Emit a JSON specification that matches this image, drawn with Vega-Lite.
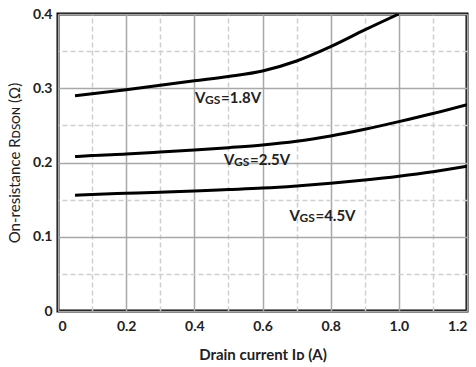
{
  "$schema": "https://vega.github.io/schema/vega-lite/v6.json",
  "width": 409,
  "height": 297,
  "autosize": {"type": "none"},
  "padding": {"left": 58, "top": 14, "right": 9, "bottom": 56},
  "background": "white",
  "config": {
    "view": {"stroke": "black", "strokeWidth": 3},
    "font": "Lato"
  },
  "datasets": {
    "curves": [
      {"id": 0.05, "r": 0.290, "vgs": "1.8V"},
      {"id": 0.1, "r": 0.2925, "vgs": "1.8V"},
      {"id": 0.2, "r": 0.298, "vgs": "1.8V"},
      {"id": 0.3, "r": 0.304, "vgs": "1.8V"},
      {"id": 0.4, "r": 0.310, "vgs": "1.8V"},
      {"id": 0.5, "r": 0.3158, "vgs": "1.8V"},
      {"id": 0.6, "r": 0.3232, "vgs": "1.8V"},
      {"id": 0.7, "r": 0.3367, "vgs": "1.8V"},
      {"id": 0.8, "r": 0.356, "vgs": "1.8V"},
      {"id": 0.9, "r": 0.3785, "vgs": "1.8V"},
      {"id": 1.0, "r": 0.4, "vgs": "1.8V"},
      {"id": 0.05, "r": 0.208, "vgs": "2.5V"},
      {"id": 0.1, "r": 0.2095, "vgs": "2.5V"},
      {"id": 0.2, "r": 0.2114, "vgs": "2.5V"},
      {"id": 0.3, "r": 0.214, "vgs": "2.5V"},
      {"id": 0.4, "r": 0.2168, "vgs": "2.5V"},
      {"id": 0.5, "r": 0.2200, "vgs": "2.5V"},
      {"id": 0.6, "r": 0.2235, "vgs": "2.5V"},
      {"id": 0.7, "r": 0.2285, "vgs": "2.5V"},
      {"id": 0.8, "r": 0.2357, "vgs": "2.5V"},
      {"id": 0.9, "r": 0.2447, "vgs": "2.5V"},
      {"id": 1.0, "r": 0.2550, "vgs": "2.5V"},
      {"id": 1.1, "r": 0.2660, "vgs": "2.5V"},
      {"id": 1.2, "r": 0.278, "vgs": "2.5V"},
      {"id": 0.05, "r": 0.156, "vgs": "4.5V"},
      {"id": 0.1, "r": 0.1570, "vgs": "4.5V"},
      {"id": 0.2, "r": 0.1585, "vgs": "4.5V"},
      {"id": 0.3, "r": 0.1600, "vgs": "4.5V"},
      {"id": 0.4, "r": 0.1616, "vgs": "4.5V"},
      {"id": 0.5, "r": 0.1635, "vgs": "4.5V"},
      {"id": 0.6, "r": 0.1655, "vgs": "4.5V"},
      {"id": 0.7, "r": 0.1684, "vgs": "4.5V"},
      {"id": 0.8, "r": 0.172, "vgs": "4.5V"},
      {"id": 0.9, "r": 0.1764, "vgs": "4.5V"},
      {"id": 1.0, "r": 0.1815, "vgs": "4.5V"},
      {"id": 1.1, "r": 0.1876, "vgs": "4.5V"},
      {"id": 1.2, "r": 0.195, "vgs": "4.5V"}
    ],
    "labels": [
      {"lx": 0.402, "ly": 0.280, "rest": "=1.8V"},
      {"lx": 0.487, "ly": 0.1966, "rest": "=2.5V"},
      {"lx": 0.679, "ly": 0.1216, "rest": "=4.5V"}
    ]
  },
  "resolve": {"axis": {"x": "independent", "y": "independent"}},
  "layer": [
    {
      "data": {"name": "labels"},
      "mark": {"type": "text", "text": "V", "align": "left", "baseline": "alphabetic", "font": "Lato", "fontSize": 15, "fontWeight": "bold", "color": "#222"},
      "encoding": {
        "x": {
          "field": "lx", "type": "quantitative",
          "scale": {"domain": [0, 1.2], "nice": false},
          "axis": {
            "orient": "top",
            "values": [0.1, 0.3, 0.5, 0.7, 0.9, 1.1],
            "labels": false, "domain": false, "ticks": false, "title": null,
            "grid": true, "gridColor": "#cfcfcf", "gridDash": [5, 3], "gridWidth": 1.5
          }
        },
        "y": {
          "field": "ly", "type": "quantitative",
          "scale": {"domain": [0, 0.4], "nice": false},
          "axis": {
            "orient": "right",
            "values": [0.05, 0.15, 0.25, 0.35],
            "labels": false, "domain": false, "ticks": false, "title": null,
            "grid": true, "gridColor": "#cfcfcf", "gridDash": [5, 3], "gridWidth": 1.5
          }
        }
      }
    },
    {
      "data": {"name": "curves"},
      "mark": {"type": "line", "color": "black", "strokeWidth": 3, "interpolate": "monotone", "clip": true},
      "encoding": {
        "x": {
          "field": "id", "type": "quantitative",
          "scale": {"domain": [0, 1.2], "nice": false, "zero": true},
          "axis": {
            "orient": "bottom",
            "values": [0, 0.2, 0.4, 0.6, 0.8, 1.0, 1.2],
            "labelExpr": "datum.value == 0 ? '0' : format(datum.value, '.1f')",
            "domain": false, "ticks": false,
            "grid": true, "gridColor": "#a8a8a8", "gridWidth": 1.5,
            "labelFont": "Lato", "labelFontSize": 14, "labelFontWeight": "bold", "labelColor": "#222",
            "labelPadding": 8,
            "title": "Drain current Iᴅ (A)",
            "titleFont": "Lato", "titleFontSize": 15, "titleFontWeight": "bold", "titleColor": "#222",
            "titlePadding": 14
          }
        },
        "y": {
          "field": "r", "type": "quantitative",
          "scale": {"domain": [0, 0.4], "nice": false},
          "axis": {
            "orient": "left",
            "values": [0, 0.1, 0.2, 0.3, 0.4],
            "labelExpr": "datum.value == 0 ? '0' : format(datum.value, '.1f')",
            "domain": false, "ticks": false,
            "grid": true, "gridColor": "#a8a8a8", "gridWidth": 1.5,
            "labelFont": "Lato", "labelFontSize": 14, "labelFontWeight": "bold", "labelColor": "#222",
            "labelPadding": 6,
            "title": "On-resistance Rᴅꜱᴏɴ (Ω)",
            "titleFont": "Lato", "titleFontSize": 15, "titleFontWeight": "normal", "titleColor": "#222",
            "titlePadding": 10
          }
        },
        "detail": {"field": "vgs"}
      }
    },
    {
      "data": {"name": "labels"},
      "mark": {"type": "text", "text": "GS", "align": "left", "baseline": "alphabetic", "font": "Lato", "fontSize": 12, "fontWeight": "bold", "color": "#222", "dx": 10, "dy": 1},
      "encoding": {
        "x": {"field": "lx", "type": "quantitative", "axis": null},
        "y": {"field": "ly", "type": "quantitative", "axis": null}
      }
    },
    {
      "data": {"name": "labels"},
      "mark": {"type": "text", "align": "left", "baseline": "alphabetic", "font": "Lato", "fontSize": 15, "fontWeight": "bold", "color": "#222", "dx": 26},
      "encoding": {
        "x": {"field": "lx", "type": "quantitative", "axis": null},
        "y": {"field": "ly", "type": "quantitative", "axis": null},
        "text": {"field": "rest"}
      }
    }
  ]
}
